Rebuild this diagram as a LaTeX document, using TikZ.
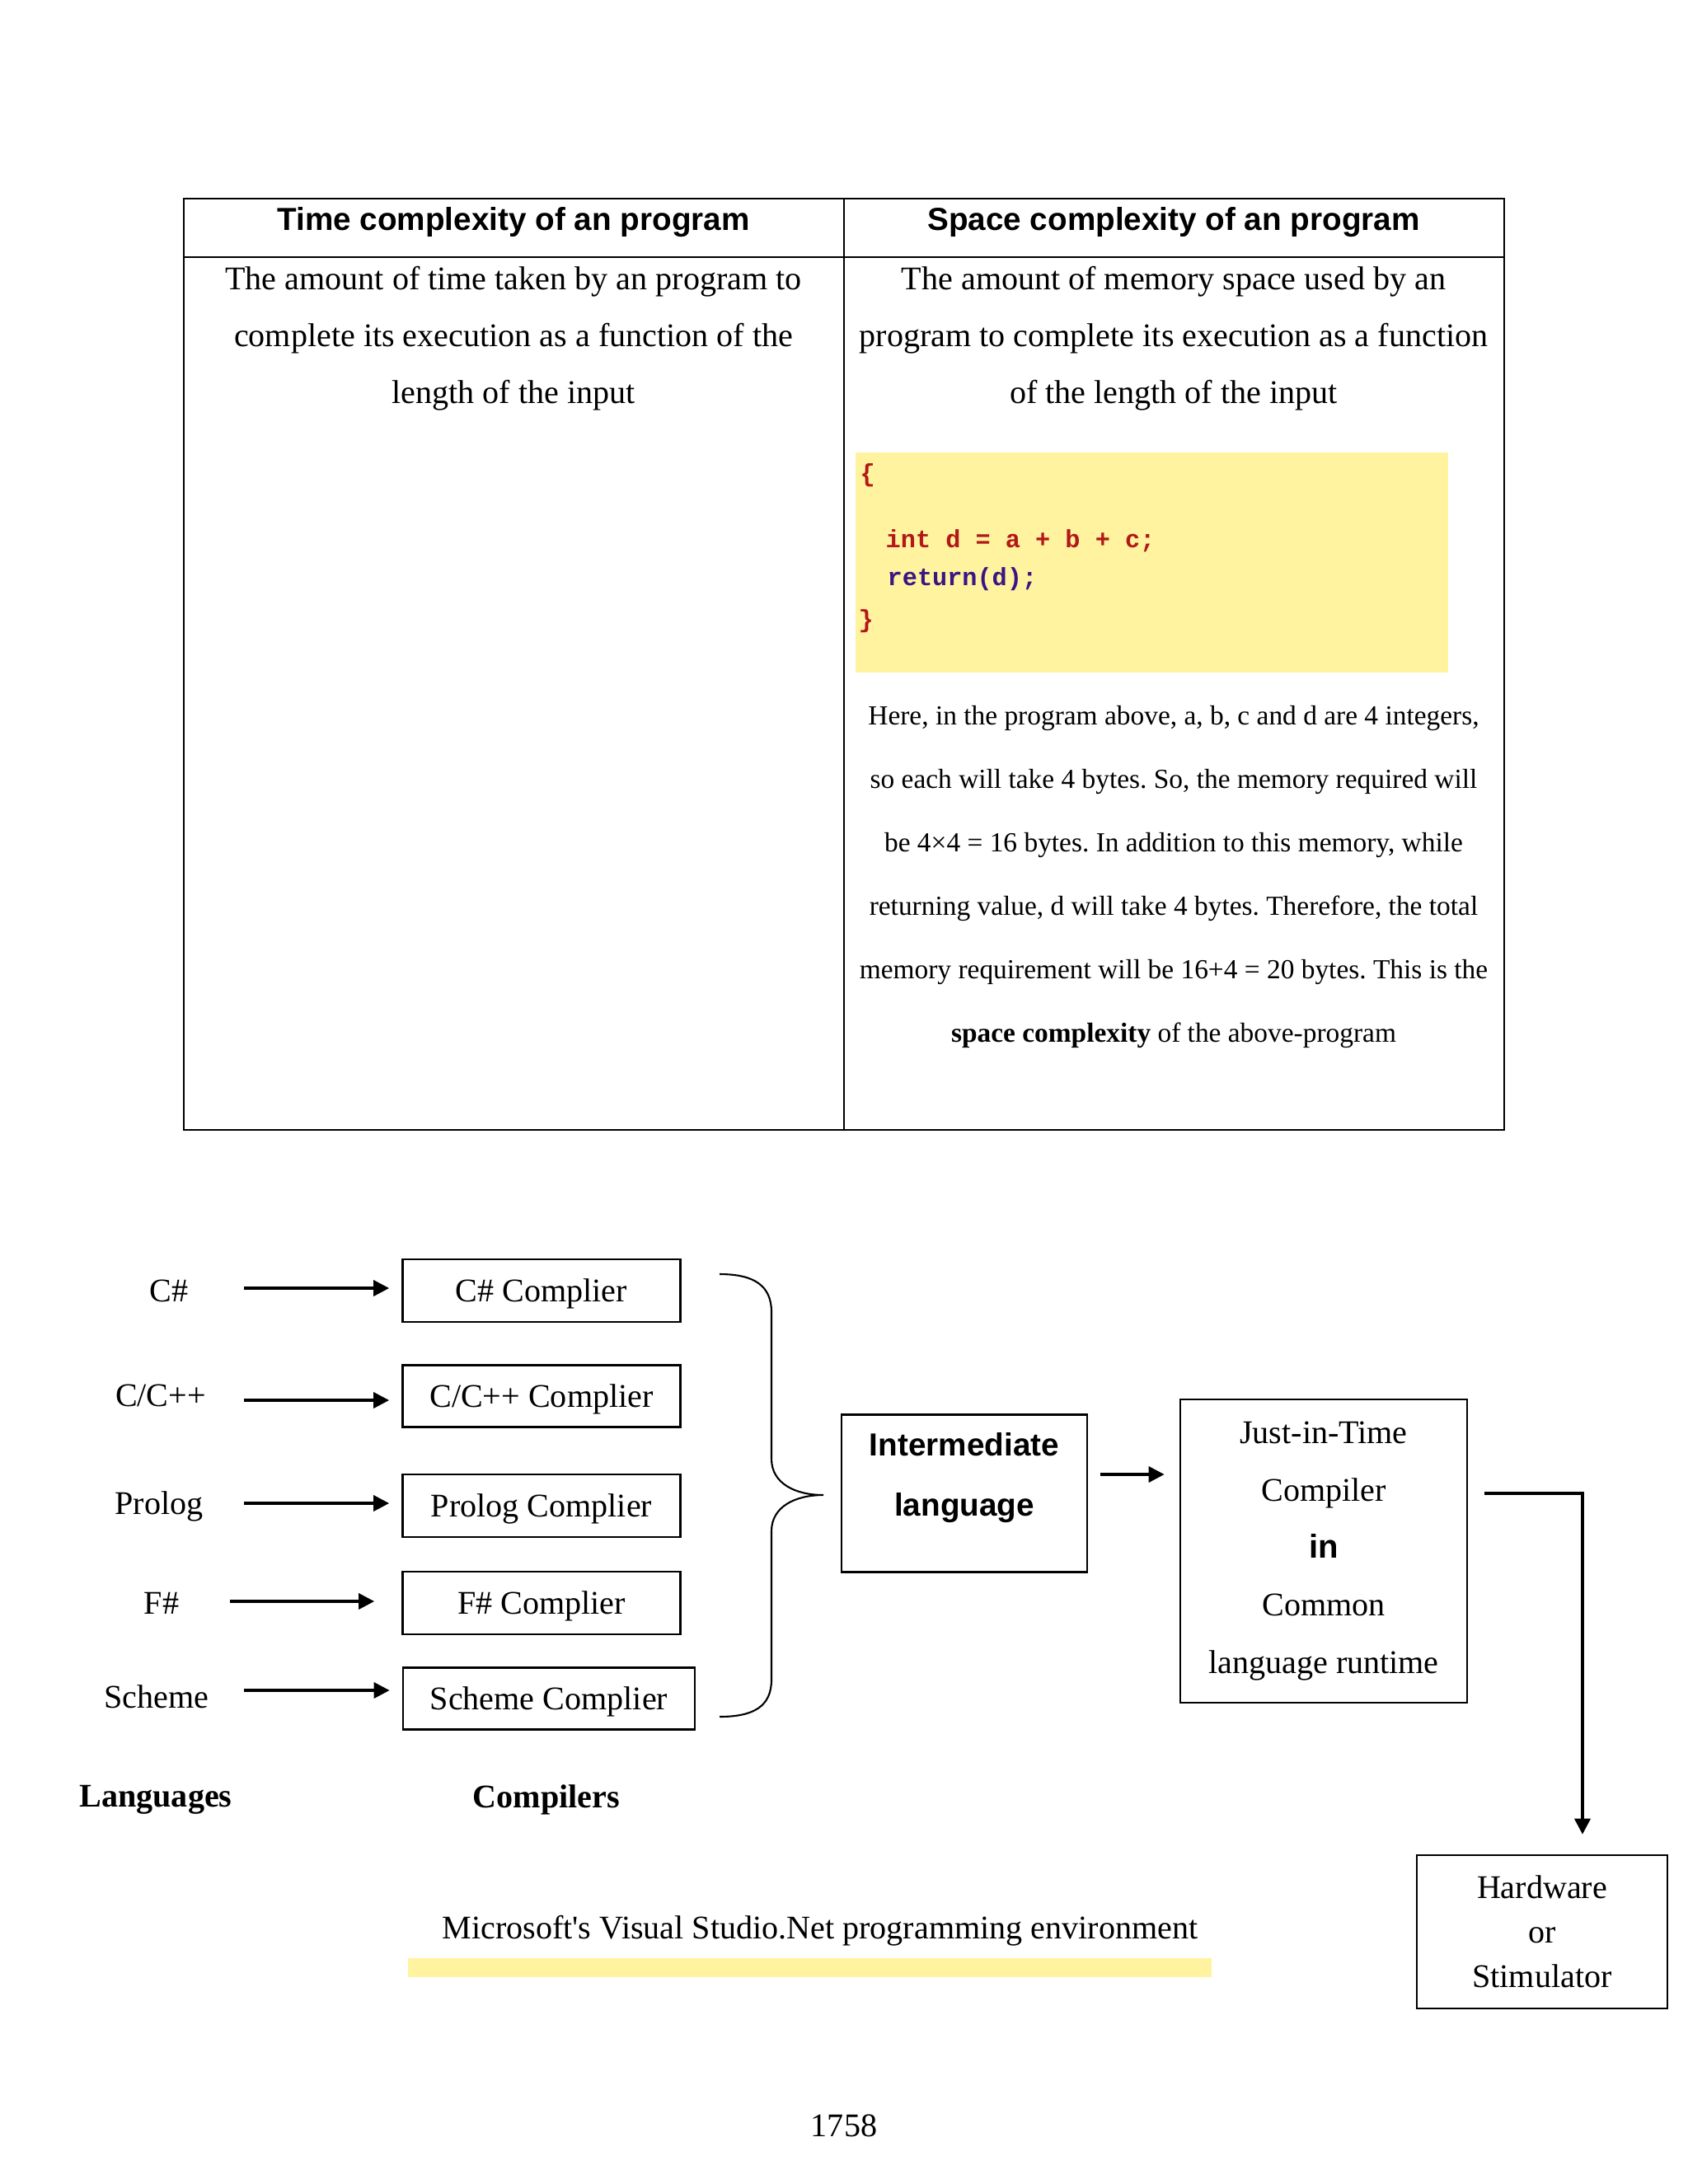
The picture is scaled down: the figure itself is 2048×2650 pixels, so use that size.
\documentclass[tikz,border=0pt]{standalone}
\usepackage{fontspec}
\setmainfont{Liberation Serif}
\setsansfont{Liberation Sans}
\setmonofont{Liberation Mono}
\usetikzlibrary{arrows.meta}
\frenchspacing

\begin{document}
\begin{tikzpicture}[x=0.01cm,y=-0.01cm,>={Triangle[length=5.4pt,width=5.4pt]},
  txt/.style={font=\fontsize{11.4pt}{19.6pt}\selectfont,align=center,inner sep=0pt},
  head/.style={font=\fontsize{11pt}{13pt}\selectfont\sffamily\bfseries,inner sep=0pt},
  code/.style={font=\fontsize{8.6pt}{10pt}\selectfont\ttfamily\bfseries,inner sep=0pt,anchor=west},
  box/.style={draw,line width=0.7pt,inner sep=0pt,txt},
  arr/.style={->,line width=1pt}]

\definecolor{codeyellow}{RGB}{255,243,160}
\definecolor{codered}{RGB}{178,24,24}
\definecolor{codeblue}{RGB}{58,22,130}

\useasboundingbox (0,0) rectangle (2048,2650);

% table
\draw[line width=0.6pt] (223,241) rectangle (1825,1371);
\draw[line width=0.6pt] (223,312) -- (1825,312);
\draw[line width=0.6pt] (1024,241) -- (1024,1371);
\node[head] (th1) at (623,270) {Time complexity of an program};
\node[head] (th2) at (1424,270) {Space complexity of an program};
\node[txt] (td1) at (623,411) {The amount of time taken by an program to\\complete its execution as a function of the\\length of the input};
\node[txt] (td2) at (1424,411) {The amount of memory space used by an\\program to complete its execution as a function\\of the length of the input};

% code
\fill[codeyellow] (1038,549) rectangle (1757,816);
\node[code,text=codered] (c1) at (1043,577) {\{};
\node[code,text=codered] (c2) at (1074,656) {int d = a + b + c;};
\node[code,text=codeblue] (c3) at (1076,703) {return(d);};
\node[code,text=codered] (c4) at (1041,754) {\}};
\node[txt,font=\fontsize{9.5pt}{21.85pt}\selectfont] (expl) at (1424,1064) {Here, in the program above, a, b, c and d are 4 integers,\\so each will take 4 bytes. So, the memory required will\\be 4×4 = 16 bytes. In addition to this memory, while\\returning value, d will take 4 bytes. Therefore, the total\\memory requirement will be 16+4 = 20 bytes. This is the\\\textbf{space complexity} of the above-program};

% languages
\node[txt] (l-cs) at (205,1566) {C\#};
\node[txt] (l-cpp) at (195,1693) {C/C++};
\node[txt] (l-pl) at (193,1828) {Prolog};
\node[txt] (l-fs) at (196,1945) {F\#};
\node[txt] (l-sc) at (190,2059) {Scheme};

% compilers
\node[box,text depth=0pt,minimum width=3.37cm,minimum height=0.76cm] (c-cs) at (657,1566) {C\# Complier};
\node[box,text depth=0pt,minimum width=3.37cm,minimum height=0.75cm] (c-cpp) at (657,1694) {C/C++ Complier};
\node[box,text depth=0pt,minimum width=3.37cm,minimum height=0.76cm] (c-pl) at (657,1827) {Prolog Complier};
\node[box,text depth=0pt,minimum width=3.37cm,minimum height=0.76cm] (c-fs) at (657,1945) {F\# Complier};
\node[box,text depth=0pt,minimum width=3.54cm,minimum height=0.75cm] (c-sc) at (666,2061) {Scheme Complier};

\foreach \n/\sx/\y/\gap in {cs/296/1563/0.15cm,cpp/296/1699/0.15cm,pl/296/1824/0.15cm,fs/279/1943/0.33cm,sc/296/2051/0.15cm}{
  \coordinate (s-\n) at (\sx,\y);
  \draw[arr,shorten >=\gap] (s-\n) -- (s-\n -| c-\n.west);
}

\node[txt,font=\fontsize{11.4pt}{13pt}\selectfont\bfseries] (langs) at (189,2184) {Languages};
\node[txt,font=\fontsize{11.4pt}{13pt}\selectfont\bfseries] (comps) at (663,2184) {Compilers};

% brace
\draw[line width=0.6pt] (873,1546) .. controls (915,1546) and (936,1560) .. (936,1592) -- (936,1770)
  .. controls (936,1800) and (965,1814) .. (999,1814)
  .. controls (965,1814) and (936,1828) .. (936,1858) -- (936,2038)
  .. controls (936,2070) and (915,2083) .. (873,2083);

% intermediate language
\node[box,minimum width=2.98cm,minimum height=1.91cm] (il) at (1170,1812) {};
\node[head,align=center,font=\fontsize{11pt}{20.8pt}\selectfont\sffamily\bfseries] (iltxt) at (1170,1793) {Intermediate\\language};

% just in time compiler
\node[box,minimum width=3.48cm,minimum height=3.68cm,font=\fontsize{11.4pt}{19.77pt}\selectfont] (jit) at (1606,1882) {Just-in-Time\\Compiler\\\textsf{\textbf{in}}\\Common\\language runtime};
\coordinate (ilout) at (1330,1789);
\draw[arr,shorten <=0.05cm,shorten >=0.18cm] (ilout) -- (ilout -| jit.west);

% hardware
\node[box,minimum width=3.04cm,minimum height=1.86cm,font=\fontsize{11.4pt}{15.4pt}\selectfont] (hw) at (1871,2344) {Hardware\\or\\Stimulator};
\coordinate (turn) at (1920,1812);
\draw[arr,shorten <=0.2cm,shorten >=0.24cm] (jit.east |- turn) -- (turn) -- (turn |- hw.north);

% environment
\fill[codeyellow] (495,2376) rectangle (1470,2399);
\node[txt] (env) at (995,2343) {Microsoft\textquotesingle s Visual Studio.Net programming environment};

\node[txt] (page) at (1024,2579) {1758};

\end{tikzpicture}
\end{document}
